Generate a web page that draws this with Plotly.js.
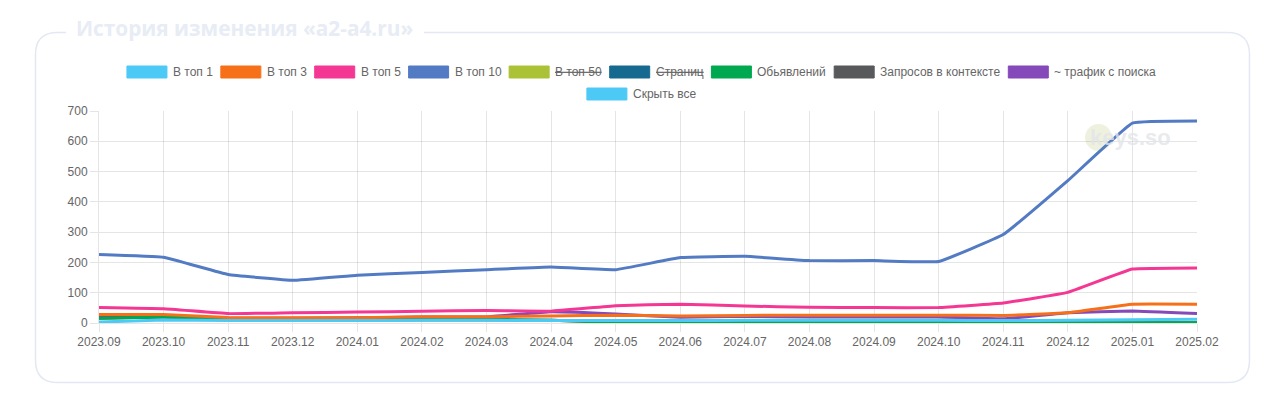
<!DOCTYPE html>
<html>
<head>
<meta charset="utf-8">
<script src="https://cdn.plot.ly/plotly-3.0.1.min.js"></script>
<style>
  html, body { margin: 0; padding: 0; background: #ffffff; }
  #chart { width: 1280px; height: 399px; }
</style>
</head>
<body>
<div id="chart"></div>
<script>
// ---------- DATA ----------
const months = ['2023.09','2023.10','2023.11','2023.12','2024.01','2024.02','2024.03','2024.04','2024.05',
                '2024.06','2024.07','2024.08','2024.09','2024.10','2024.11','2024.12','2025.01','2025.02'];
const top1    = [3, 10, 8, 8, 8, 9, 9, 8, 8, 8, 9, 9, 9, 9, 8, 9, 11, 12];
const top3    = [28, 28, 18, 17, 17, 21, 21, 23, 26, 23, 25, 26, 26, 26, 25, 34, 62, 62];
const top5    = [51, 47, 31, 34, 36, 39, 41, 39, 57, 62, 56, 52, 51, 51, 66, 101, 178, 182];
const top10   = [226, 217, 160, 141, 158, 167, 176, 185, 176, 216, 220, 206, 206, 203, 292, 470, 660, 667];
const top50   = [];
const pages   = [];
const ads     = [16, 20, 12, 11, 11, 11, 11, 9, 2, 1, 5, 5, 5, 5, 1, 1, 1, 1];
const context = [16, 20, 12, 11, 11, 11, 11, 9, 2, 1, 5, 5, 5, 5, 1, 1, 1, 1];
const traffic = [22, 22, 16, 16, 17, 20, 20, 37, 30, 19, 22, 20, 20, 20, 14, 34, 40, 31];
const hideAll = [];

const seriesNames = ['В топ 1','В топ 3','В топ 5','В топ 10','В топ 50','Страниц','Обьявлений','Запросов в контексте','~ трафик с поиска','Скрыть все'];
const seriesValues = [top1, top3, top5, top10, top50, pages, ads, context, traffic, hideAll];
const seriesHidden = [false, false, false, false, true, true, false, false, false, false];
const chartTitle = 'История изменения «a2-a4.ru»';

// ---------- STYLE ----------
const colors = ['#4dc9f6','#f67019','#f53794','#537bc4','#acc236','#166a8f','#00a950','#58595b','#8549ba','#4dc9f6'];
const W = 1280, H = 399, mL = 99, mR = 83, mT = 111, mB = 76;
const plotW = W - mL - mR, plotH = H - mT - mB;
const px = v => (v - mL) / plotW;
const py = v => (H - mB - v) / plotH;
const FONT = 'Arial, "Liberation Sans", Helvetica, sans-serif';

// traces: dataset 0 drawn on top (like Chart.js) -> add in reverse
const traces = [];
for (let i = seriesNames.length - 1; i >= 0; i--) {
  if (seriesHidden[i] || seriesValues[i].length === 0) continue;
  traces.push({
    type: 'scatter', mode: 'lines', name: seriesNames[i],
    x: months, y: seriesValues[i],
    line: { color: colors[i], width: 3, shape: 'spline', smoothing: 0.25 },
    hoverinfo: 'skip', showlegend: false
  });
}

// ---------- custom legend (Chart.js style boxes) ----------
const ctx = document.createElement('canvas').getContext('2d');
ctx.font = '12px Arial, "Liberation Sans", sans-serif';
const boxW = 40, boxH = 12, textGap = 6, itemPad = 8;
const rows = [[0,1,2,3,4,5,6,7,8],[9]];
const rowY = [72, 94];
const centerX = 641.5;
const shapes = [], annotations = [];
rows.forEach((row, ri) => {
  const widths = row.map(i => boxW + textGap + ctx.measureText(seriesNames[i]).width);
  const total = widths.reduce((a, b) => a + b, 0) + itemPad * (row.length - 1);
  let x = centerX - total / 2;
  row.forEach((i, k) => {
    const yc = rowY[ri];
    shapes.push({ type: 'rect', xref: 'paper', yref: 'paper',
      x0: px(x), x1: px(x + boxW), y0: py(yc + boxH / 2), y1: py(yc - boxH / 2),
      fillcolor: colors[i], line: { color: colors[i], width: 1 } });
    const txt = seriesHidden[i] ? '<s>' + seriesNames[i] + '</s>' : seriesNames[i];
    annotations.push({ xref: 'paper', yref: 'paper', x: px(x + boxW + textGap), y: py(yc),
      xanchor: 'left', yanchor: 'middle', showarrow: false, text: txt,
      font: { family: FONT, size: 12, color: '#666666' }, borderpad: 0, borderwidth: 0 });
    x += widths[k] + itemPad;
  });
});

// ---------- card border with title gap ----------
const bx0 = 35.5, by0 = 32.5, bx1 = 1249.5, by1 = 382.5, rad = 22;
const P = (x, y) => px(x).toFixed(5) + ',' + py(y).toFixed(5);
const borderPath = 'M' + P(66, by0) + ' L' + P(bx0 + rad, by0) + ' Q' + P(bx0, by0) + ' ' + P(bx0, by0 + rad) +
  ' L' + P(bx0, by1 - rad) + ' Q' + P(bx0, by1) + ' ' + P(bx0 + rad, by1) +
  ' L' + P(bx1 - rad, by1) + ' Q' + P(bx1, by1) + ' ' + P(bx1, by1 - rad) +
  ' L' + P(bx1, by0 + rad) + ' Q' + P(bx1, by0) + ' ' + P(bx1 - rad, by0) +
  ' L' + P(424, by0);
shapes.push({ type: 'path', xref: 'paper', yref: 'paper', path: borderPath,
  line: { color: '#e3e8f2', width: 1.5 }, layer: 'below' });

annotations.push({ xref: 'paper', yref: 'paper', x: px(76), y: py(27.5), xanchor: 'left', yanchor: 'middle',
  showarrow: false, text: '<b>' + chartTitle + '</b>',
  font: { family: '"Open Sans", Arial, sans-serif', size: 20.8, color: '#e7ecf5' }, borderpad: 0, borderwidth: 0 });

// watermark
shapes.push({ type: 'circle', xref: 'paper', yref: 'paper', layer: 'below',
  x0: px(1085), x1: px(1112), y0: py(151), y1: py(124), fillcolor: '#eff1df', line: { width: 0 } });
annotations.push({ xref: 'paper', yref: 'paper', x: px(1090), y: py(137), xanchor: 'left', yanchor: 'middle',
  showarrow: false, text: '<b>keys.so</b>', font: { family: FONT, size: 22, color: 'rgba(226,229,232,0.8)' },
  borderpad: 0, borderwidth: 0 });

const gridColor = 'rgba(0,0,0,0.1)';
const layout = {
  width: W, height: H,
  margin: { l: mL, r: mR, t: mT, b: mB, pad: 0 },
  paper_bgcolor: '#ffffff', plot_bgcolor: '#ffffff',
  showlegend: false,
  font: { family: FONT, size: 12, color: '#666666' },
  xaxis: {
    type: 'category', range: [0, months.length - 1], fixedrange: true,
    showgrid: true, gridcolor: gridColor, gridwidth: 1,
    showline: true, linecolor: gridColor, linewidth: 1, mirror: false,
    ticks: 'outside', ticklen: 8, tickcolor: gridColor, tickwidth: 1,
    tickfont: { family: FONT, size: 12, color: '#666666' }, zeroline: false
  },
  yaxis: {
    range: [0, 700], dtick: 100, tick0: 0, fixedrange: true,
    showgrid: true, gridcolor: gridColor, gridwidth: 1,
    showline: true, linecolor: gridColor, linewidth: 1,
    ticks: 'outside', ticklen: 8, tickcolor: gridColor, tickwidth: 1,
    tickfont: { family: FONT, size: 12, color: '#666666' }, zeroline: false
  },
  shapes: shapes,
  annotations: annotations
};

Plotly.newPlot('chart', traces, layout, { displayModeBar: false, staticPlot: true });
</script>
</body>
</html>
